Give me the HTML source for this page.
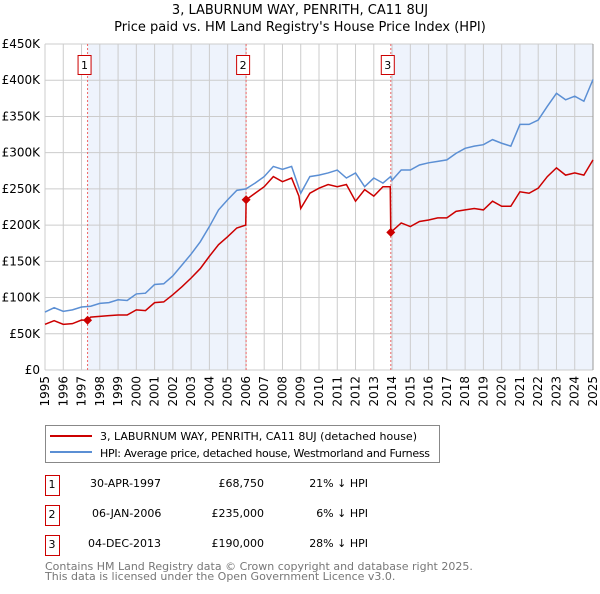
<!DOCTYPE html>
<html><head><meta charset="utf-8"><style>
body{margin:0;background:#fff;font-family:"DejaVu Sans","Liberation Sans",sans-serif;}
svg text{font-family:"DejaVu Sans","Liberation Sans",sans-serif;}
</style></head><body>
<svg id="c" width="600" height="590" xmlns="http://www.w3.org/2000/svg">
<text x="300" y="14" text-anchor="middle" font-size="13">3, LABURNUM WAY, PENRITH, CA11 8UJ</text>
<text x="300" y="31" text-anchor="middle" font-size="13">Price paid vs. HM Land Registry's House Price Index (HPI)</text>
<g id="plot"></g>
<rect x="45.5" y="425.5" width="394" height="37" fill="#fff" stroke="#888"/>
<line x1="50" y1="436" x2="92" y2="436" stroke="#cc0000" stroke-width="2"/>
<text x="100" y="440" font-size="11" textLength="317">3, LABURNUM WAY, PENRITH, CA11 8UJ (detached house)</text>
<line x1="50" y1="452" x2="92" y2="452" stroke="#5b8fd4" stroke-width="2"/>
<text x="100" y="457" font-size="11" textLength="330">HPI: Average price, detached house, Westmorland and Furness</text>
<g font-size="11">
<rect x="45.5" y="475.5" width="14" height="20" fill="none" stroke="#cc0000"/><text x="52" y="488" text-anchor="middle">1</text>
<text x="90" y="487">30-APR-1997</text><text x="264" y="487" text-anchor="end">£68,750</text><text x="368" y="487" text-anchor="end">21% ↓ HPI</text>
<rect x="45.5" y="505.5" width="14" height="20" fill="none" stroke="#cc0000"/><text x="52" y="518" text-anchor="middle">2</text>
<text x="92" y="517">06-JAN-2006</text><text x="264" y="517" text-anchor="end">£235,000</text><text x="368" y="517" text-anchor="end">6% ↓ HPI</text>
<rect x="45.5" y="535.5" width="14" height="20" fill="none" stroke="#cc0000"/><text x="52" y="548" text-anchor="middle">3</text>
<text x="88" y="547">04-DEC-2013</text><text x="264" y="547" text-anchor="end">£190,000</text><text x="368" y="547" text-anchor="end">28% ↓ HPI</text>
</g>
<text x="45" y="570" font-size="11" fill="#777">Contains HM Land Registry data © Crown copyright and database right 2025.</text>
<text x="45" y="580" font-size="11" fill="#777">This data is licensed under the Open Government Licence v3.0.</text>
</svg>
<script>
const yTicks=[0,50,100,150,200,250,300,350,400,450];
const yTickLabels=["£0","£50K","£100K","£150K","£200K","£250K","£300K","£350K","£400K","£450K"];
const xYears=[1995,1996,1997,1998,1999,2000,2001,2002,2003,2004,2005,2006,2007,2008,2009,2010,2011,2012,2013,2014,2015,2016,2017,2018,2019,2020,2021,2022,2023,2024,2025];
const hpiYears=[1995,1995.5,1996,1996.5,1997,1997.5,1998,1998.5,1999,1999.5,2000,2000.5,2001,2001.5,2002,2002.5,2003,2003.5,2004,2004.5,2005,2005.5,2006,2006.5,2007,2007.5,2008,2008.5,2009,2009.5,2010,2010.5,2011,2011.5,2012,2012.5,2013,2013.5,2013.92,2014,2014.5,2015,2015.5,2016,2016.5,2017,2017.5,2018,2018.5,2019,2019.5,2020,2020.5,2021,2021.5,2022,2022.5,2023,2023.5,2024,2024.5,2025];
const hpiValues=[80,86,81,83,87,88,92,93,97,96,105,106,118,119,130,145,160,177,198,221,235,248,250,258,267,281,277,281,244,267,269,272,276,265,272,253,265,258,267,262,276,276,283,286,288,290,299,306,309,311,318,313,309,339,339,345,364,382,373,378,371,401];
const priceYears=[1995,1995.5,1996,1996.5,1997,1997.33,1997.5,1998.5,1999,1999.5,2000,2000.5,2001,2001.5,2002,2002.5,2003,2003.5,2004,2004.5,2005,2005.5,2005.99,2006.01,2006.5,2007,2007.5,2008,2008.5,2008.9,2009,2009.5,2010,2010.5,2011,2011.5,2012,2012.5,2013,2013.5,2013.9,2013.93,2014.5,2015,2015.5,2016,2016.5,2017,2017.5,2018,2018.5,2019,2019.5,2020,2020.5,2021,2021.5,2022,2022.5,2023,2023.5,2024,2024.5,2025];
const priceValues=[63,68,63,64,69,68.75,73,75,76,76,83,82,93,94,104,115,127,140,157,173,184,196,200,235,244,253,267,260,265,240,223,244,251,256,253,256,233,249,240,253,253,190,203,198,205,207,210,210,219,221,223,221,233,226,226,246,244,251,267,279,269,272,269,290];
const saleYears=[1997.33,2006.01,2013.93];
const saleValues=[68.75,235,190];
const saleLabels=["1","2","3"];
const X=y=>45+(y-1995)*(548/30), Y=v=>370-v*(326/450);
const g=document.getElementById('plot'), NS="http://www.w3.org/2000/svg";
function mk(t,a){const e=document.createElementNS(NS,t);for(const k in a)e.setAttribute(k,a[k]);g.appendChild(e);return e;}
let e;
e=mk('rect',{x:X(saleYears[0]),y:Y(450),width:X(saleYears[1])-X(saleYears[0]),height:Y(0)-Y(450),fill:'#eef3fc'});


e=mk('rect',{x:X(saleYears[2]),y:Y(450),width:X(2025)-X(saleYears[2]),height:Y(0)-Y(450),fill:'#eef3fc'});


yTicks.forEach((v,i)=>{
 e=mk('line',{x1:45,x2:X(2025),y1:Y(v),y2:Y(v),stroke:'#ccc'});
 
 
 e=mk('text',{x:40,y:Y(v)+4,'text-anchor':'end','font-size':12});e.textContent=yTickLabels[i];
 
 
});
xYears.forEach(yr=>{
 e=mk('line',{x1:X(yr),x2:X(yr),y1:Y(450),y2:Y(0),stroke:'#ccc'});
 
 
 e=mk('text',{transform:`translate(${X(yr)+4},${Y(0)+6}) rotate(-90)`,'text-anchor':'end','font-size':12});e.textContent=yr;
 
 
});
e=mk('line',{x1:X(2025),x2:X(2025),y1:Y(450),y2:Y(0),stroke:'#999'});


saleYears.forEach((yr,i)=>{
 e=mk('line',{x1:X(yr),x2:X(yr),y1:Y(450),y2:Y(0),stroke:'#e66','stroke-dasharray':'2,2'});
 
 
 e=mk('rect',{x:X(yr)-9.5,y:Y(450)+11.5,width:13,height:19,fill:'#fff',stroke:'#cc0000'});
 
 
 e=mk('text',{x:X(yr)-3,y:Y(450)+25,'text-anchor':'middle','font-size':11});e.textContent=saleLabels[i];
 
 
});
e=mk('polyline',{points:hpiYears.map((y,i)=>X(y)+','+Y(hpiValues[i])).join(' '),fill:'none',stroke:'#5b8fd4','stroke-width':1.5});


e=mk('polyline',{points:priceYears.map((y,i)=>X(y)+','+Y(priceValues[i])).join(' '),fill:'none',stroke:'#cc0000','stroke-width':1.5});


saleYears.forEach((yr,i)=>{
 const cx=X(yr),cy=Y(saleValues[i]);
 e=mk('polygon',{points:`${cx},${cy-4.5} ${cx+4.5},${cy} ${cx},${cy+4.5} ${cx-4.5},${cy}`,fill:'#cc0000'});
 
 
});
</script>
</body></html>
